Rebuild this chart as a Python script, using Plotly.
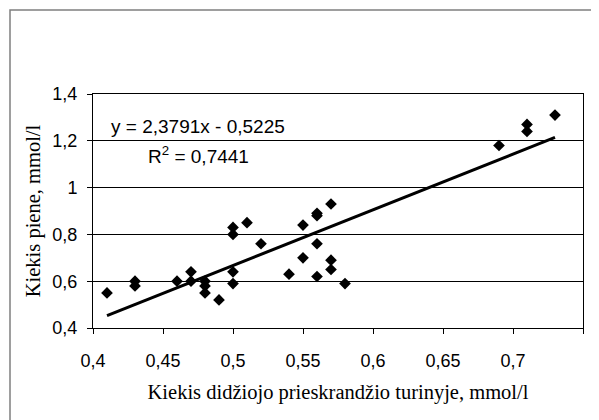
import plotly.graph_objects as go

# Data
x_vals = [0.41, 0.43, 0.43, 0.46, 0.47, 0.47, 0.48, 0.48, 0.48, 0.49,
          0.50, 0.50, 0.50, 0.50, 0.51, 0.52, 0.54, 0.55, 0.55, 0.56,
          0.56, 0.56, 0.56, 0.57, 0.57, 0.57, 0.58, 0.69, 0.71, 0.71, 0.73]
y_vals = [0.55, 0.60, 0.58, 0.60, 0.64, 0.60, 0.60, 0.58, 0.55, 0.52,
          0.83, 0.80, 0.64, 0.59, 0.85, 0.76, 0.63, 0.84, 0.70, 0.89,
          0.88, 0.76, 0.62, 0.93, 0.69, 0.65, 0.59, 1.18, 1.27, 1.24, 1.31]

slope = 2.3791
intercept = -0.5225
r_squared = 0.7441

x_tickvals = [0.4, 0.45, 0.5, 0.55, 0.6, 0.65, 0.7, 0.75]
x_ticktext = ["0,4", "0,45", "0,5", "0,55", "0,6", "0,65", "0,7", "0,75"]
y_tickvals = [0.4, 0.6, 0.8, 1.0, 1.2, 1.4]
y_ticktext = ["0,4", "0,6", "0,8", "1", "1,2", "1,4"]

x_title = "Kiekis didžiojo prieskrandžio turinyje, mmol/l"
y_title = "Kiekis piene, mmol/l"

def fmt(v):
    return f"{v:.4f}".replace(".", ",")

eq_text = f"y = {fmt(slope)}x - {fmt(abs(intercept))}"
r2_text = f"R<sup>2</sup> = {fmt(r_squared)}"

x_line = [min(x_vals), max(x_vals)]
y_line = [slope * v + intercept for v in x_line]

fig = go.Figure()
fig.add_trace(go.Scatter(x=x_vals, y=y_vals, mode="markers",
                         marker=dict(symbol="diamond", size=9, color="black"),
                         showlegend=False))
fig.add_trace(go.Scatter(x=x_line, y=y_line, mode="lines",
                         line=dict(color="black", width=3),
                         showlegend=False))

# page is offset by the 8px body margin
W, H = 591, 412
L, R, T, B = 85, 16, 86, 92
pw, ph = W - L - R, H - T - B

def px_x(p):
    return (p - L) / pw

def px_y(p):
    return (H - B - p) / ph

fig.add_shape(type="rect", xref="paper", yref="paper",
              x0=px_x(2), x1=px_x(W + 20), y0=px_y(H + 20), y1=px_y(2),
              line=dict(color="#7f7f7f", width=1.5), layer="below")

fig.add_annotation(x=0.475, y=1.259, xref="x", yref="y", text=eq_text,
                   showarrow=False, font=dict(family="Liberation Sans, Arial", size=19, color="black"))
fig.add_annotation(x=0.475, y=1.139, xref="x", yref="y", text=r2_text,
                   showarrow=False, font=dict(family="Liberation Sans, Arial", size=19, color="black"))

fig.update_layout(
    width=W, height=H,
    margin=dict(l=L, r=R, t=T, b=B),
    paper_bgcolor="white", plot_bgcolor="white",
    font=dict(family="Liberation Sans, Arial", size=18, color="black"),
    xaxis=dict(range=[0.4, 0.75], tickvals=x_tickvals, ticktext=x_ticktext,
               showgrid=False, zeroline=False, showline=True, mirror=True,
               linecolor="black", linewidth=1, ticks="outside", ticklen=5,
               tickcolor="black", ticklabelstandoff=11,
               title=dict(text=x_title, font=dict(family="Liberation Serif, Times New Roman", size=20.5),
                          standoff=15)),
    yaxis=dict(range=[0.4, 1.4], tickvals=y_tickvals, ticktext=y_ticktext,
               showgrid=True, gridcolor="black", gridwidth=1, zeroline=False,
               showline=True, mirror=True, linecolor="black", linewidth=1,
               ticks="outside", ticklen=5, tickcolor="black", ticklabelstandoff=6,
               title=dict(text=y_title, font=dict(family="Liberation Serif, Times New Roman", size=20.5),
                          standoff=6)),
)

fig.write_html("out.html")
